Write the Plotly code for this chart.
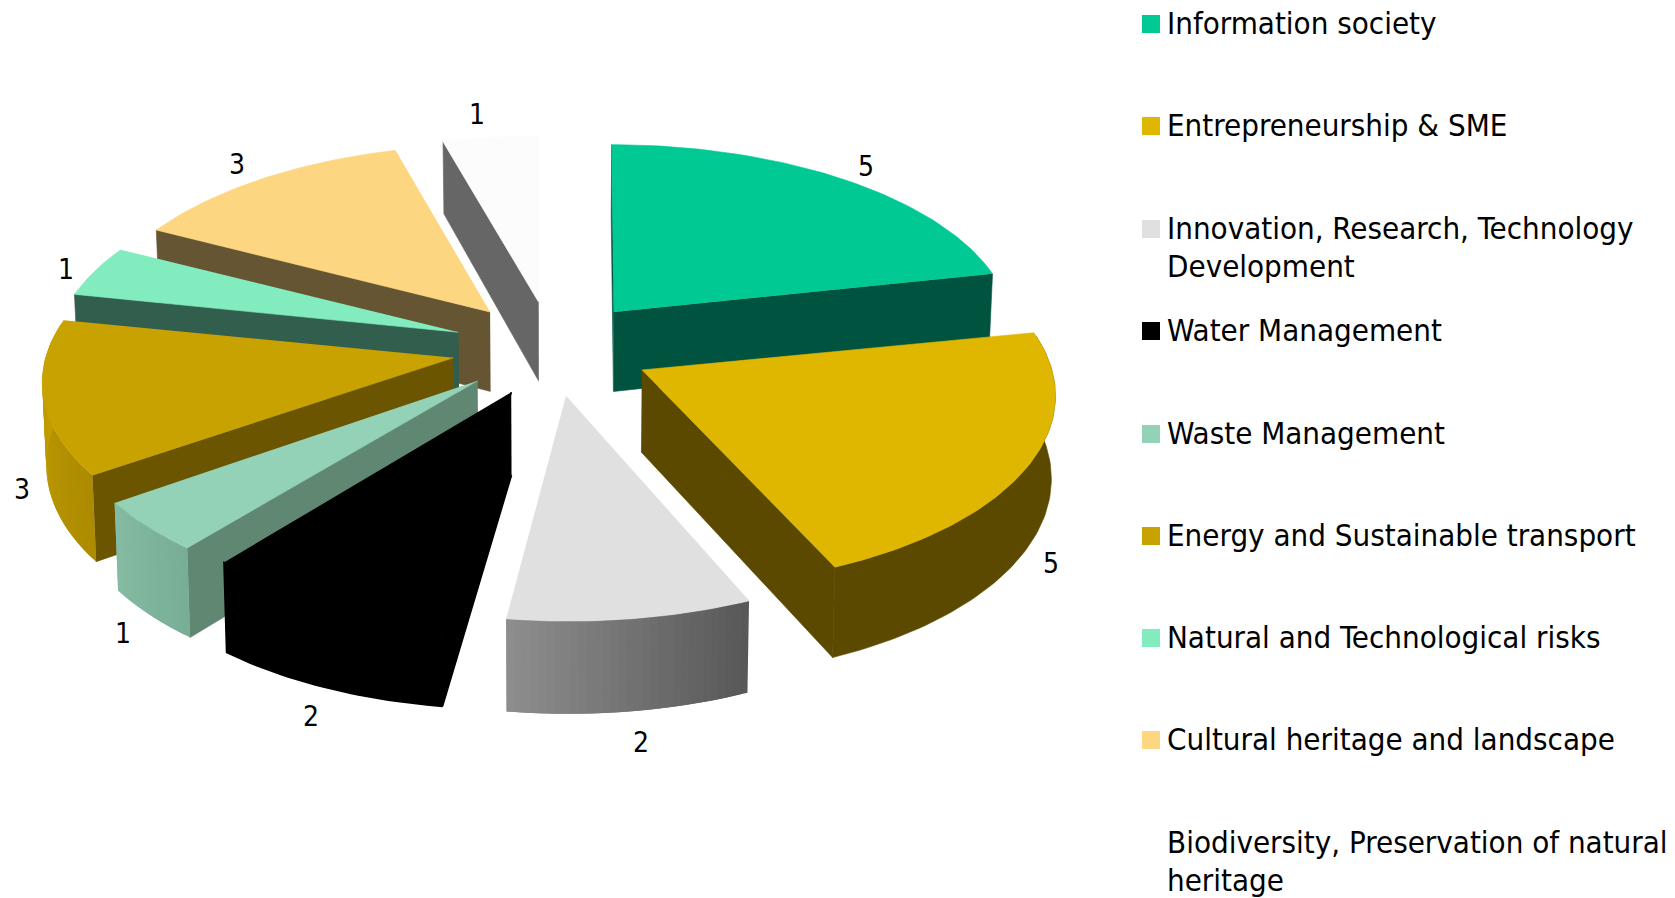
import numpy as np
import plotly.graph_objects as go

categories = ["Information society", "Entrepreneurship & SME", "Innovation, Research, Technology Development",
              "Water Management", "Waste Management", "Energy and Sustainable transport",
              "Natural and Technological risks", "Cultural heritage and landscape",
              "Biodiversity, Preservation of natural heritage"]
values = [5, 5, 2, 2, 1, 3, 1, 3, 1]
legend_lines = [["Information society"], ["Entrepreneurship & SME"], ["Innovation, Research, Technology", "Development"],
                ["Water Management"], ["Waste Management"], ["Energy and Sustainable transport"],
                ["Natural and Technological risks"], ["Cultural heritage and landscape"],
                ["Biodiversity, Preservation of natural", "heritage"]]

top_colors = ["#00c994", "#dfb600", "#e0e0e0", "#000000", "#93d2b6", "#c8a200", "#82ecbf", "#fdd681", "#fcfcfc"]
side_colors = ["#00543f", "#5b4900", "#5e5e5e", "#000000", "#5f8772", "#6b5500", "#325e4e", "#665533", "#666666"]
outer_from = ["#00543f", "#5b4900", "#575757", "#000000", "#78ad96", "#ac8b00", "#325e4e", "#665533", "#666666"]
outer_to = ["#00543f", "#5b4900", "#8e8e8e", "#000000", "#84bba2", "#c8a200", "#325e4e", "#665533", "#666666"]
swatch_colors = top_colors[:-1] + ["#ffffff"]

# small hand placement of the value labels, in pixels
label_nudge_x = [-2, -10, 4, 4, 4, 11, 13, 1, -9]
label_nudge_y = [2, -3, 2, 2, -2, -1, 5, 0, -5]

CX, CY, A, B, K, H, PULL, APEX_PULL, SHRINK = 552, 348, 400, 189, 0.10, 81, 0.265, 0.25, 0.992
FONT = "DejaVu Sans Condensed, DejaVu Sans"


def project(X, Y, low=False):
    X, Y = np.asarray(X, float), np.asarray(Y, float)
    s = 1 / (1 + K * Y)
    sx = A * X * s
    sy = -B * Y * s
    if low:
        return CX + sx * SHRINK, CY + sy + H * s
    return CX + sx, CY + sy


def hex_mix(a, b, t):
    ca = [int(a[i:i + 2], 16) for i in (1, 3, 5)]
    cb = [int(b[i:i + 2], 16) for i in (1, 3, 5)]
    return "#%02x%02x%02x" % tuple(round(p + (q - p) * t) for p, q in zip(ca, cb))


def poly(fig, xs, ys, color, edge=0.6):
    # a same-coloured edge closes the hairline between black faces
    if color == "#000000":
        edge = 1.5
    fig.add_trace(go.Scatter(x=list(xs), y=list(ys), mode="lines", fill="toself", fillcolor=color,
                             line=dict(color=color, width=edge), hoverinfo="skip", showlegend=False))


total = sum(values)
edges = np.cumsum([0] + values) / total * 2 * np.pi
fig = go.Figure()

wedges = []
for i in range(len(values)):
    a0, a1 = edges[i], edges[i + 1]
    mid = (a0 + a1) / 2
    wedges.append((np.cos(mid), i, a0, a1, mid))

labels = []
for _, i, a0, a1, mid in sorted(wedges, key=lambda w: -w[0]):
    ox, oy = PULL * np.sin(mid), PULL * np.cos(mid)
    px, py = APEX_PULL * np.sin(mid), APEX_PULL * np.cos(mid)
    th = np.linspace(a0, a1, max(6, int(values[i] * 16)))
    X, Y = ox + np.sin(th), oy + np.cos(th)
    # radial walls: only those that face the viewer
    faces = []
    if np.sin(a0) < 0.001:
        faces.append(a0)
    if np.sin(a1) > 0.001:
        faces.append(a1)
    for ang in faces:
        ex, ey = ox + np.sin(ang), oy + np.cos(ang)
        x1, y1 = project([px, ex], [py, ey])
        x2, y2 = project([ex, px], [ey, py], low=True)
        poly(fig, np.r_[x1, x2], np.r_[y1, y2], side_colors[i])
    # curved outer wall, front part only
    tx, ty = project(X, Y)
    bx, by = project(X, Y, low=True)
    vis = np.cos(th) < 0.2
    if vis.sum() >= 2:
        wx, wy, vx, vy = tx[vis], ty[vis], bx[vis], by[vis]
        if outer_from[i] == outer_to[i]:
            poly(fig, np.r_[wx, vx[::-1]], np.r_[wy, vy[::-1]], outer_from[i])
        else:
            # shaded wall: overlapping strips, painted in order, leave no seams
            last = len(wx) - 1
            for j in range(last):
                c = hex_mix(outer_from[i], outer_to[i], (j + 0.5) / last)
                k = min(j + 2, last)
                poly(fig, [wx[j], wx[k], vx[k], vx[j]], [wy[j], wy[k], vy[k], vy[j]], c, edge=0)
    # top face
    ax, ay = project([px], [py])
    poly(fig, np.r_[ax, tx], np.r_[ay, ty], top_colors[i])
    front = bool(np.cos(mid) < 0)
    r = 1.09 if front else 1.12
    lx, ly = project([ox + r * np.sin(mid)], [oy + r * np.cos(mid)], low=front)
    labels.append((i, lx[0] + label_nudge_x[i], ly[0] + (6 if front else 0) + label_nudge_y[i]))

for i, lx, ly in labels:
    fig.add_annotation(x=float(lx), y=float(ly), text=str(values[i]), showarrow=False,
                       font=dict(size=28, color="#000000", family=FONT), xanchor="center", yanchor="middle")

# legend
legend_y = [24, 126, 229, 331, 434, 536, 638, 740, 843]
fig.add_trace(go.Scatter(x=[1151] * len(values), y=legend_y, mode="markers", hoverinfo="skip", showlegend=False,
                         marker=dict(symbol="square", size=18, color=swatch_colors, line=dict(width=0))))
for lines, y in zip(legend_lines, legend_y):
    for n, line in enumerate(lines):
        fig.add_annotation(x=1166, y=y - 1 + n * 37.5, text=line, showarrow=False, xanchor="left", yanchor="middle",
                           borderpad=0, font=dict(size=31, color="#000000", family=FONT))

fig.update_layout(width=1675, height=898, margin=dict(l=0, r=0, t=0, b=0), autosize=False,
                  paper_bgcolor="#ffffff", plot_bgcolor="#ffffff", showlegend=False,
                  xaxis=dict(range=[0, 1675], visible=False, fixedrange=True),
                  yaxis=dict(range=[898, 0], visible=False, fixedrange=True))
fig.write_html("out.html", config={"displayModeBar": False},
               post_script="document.body.style.margin='0';document.documentElement.style.overflow='hidden';")
